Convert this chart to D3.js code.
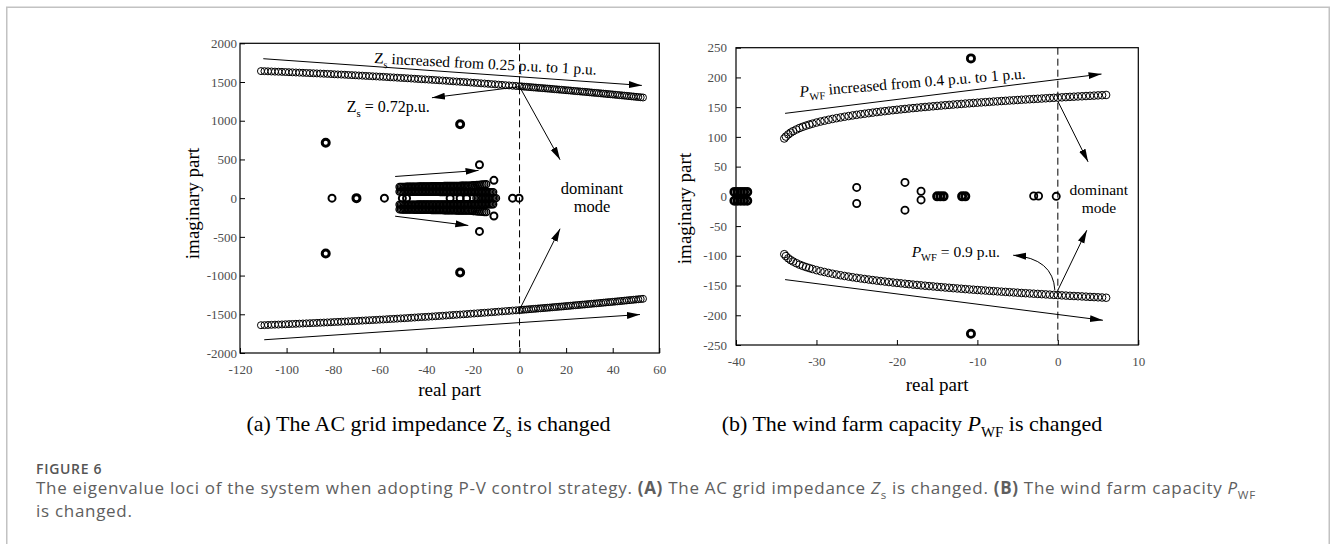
<!DOCTYPE html>
<html>
<head>
<meta charset="utf-8">
<title>Eigenvalue loci - P-V control</title>
<script src="https://cdn.jsdelivr.net/npm/d3@7"></script>
<style>
  body { margin: 0; background: #fff; }
  svg { display: block; }
  text { white-space: pre; }
  .tick text { font-family: "Liberation Serif", "Times New Roman", serif; font-size: 13px; fill: #4d4d4d; }
  .tick line { stroke: #000; }
  .serif { font-family: "Liberation Serif", "Times New Roman", serif; fill: #000; }
  .cap { font-family: "Open Sans", sans-serif; fill: #5e5e5e; letter-spacing: 0.7px; }
</style>
</head>
<body>
<script>
// ---- panel (a): Zs swept from 0.25 to 1 p.u. (dominant pair) ----
var zsRe = [-111, -109.5, -108, -106.5, -105, -103.5, -102, -100.5, -99, -97.5,
  -96, -94.5, -93, -91.5, -90, -88.5, -87, -85.5, -84, -82.5,
  -81, -79.5, -78, -76.5, -75, -73.5, -72, -70.5, -69, -67.5,
  -66, -64.5, -63, -61.5, -60, -58.5, -57, -55.5, -54, -52.5,
  -51, -49.5, -48, -46.5, -45, -43.5, -42, -40.5, -39, -37.5,
  -36, -34.5, -33, -31.5, -30, -28.5, -27, -25.5, -24, -22.5,
  -21, -19.5, -18, -16.5, -15, -13.5, -12, -10.5, -9, -7.5,
  -6, -4.5, -3, -1.5, 0,
  1, 2, 3, 4, 5, 6, 7, 8, 9, 10,
  11, 12, 13, 14, 15, 16, 17, 18, 19, 20,
  21, 22, 23, 24, 25, 26, 27, 28, 29, 30,
  31, 32, 33, 34, 35, 36, 37, 38, 39, 40,
  41, 42, 43, 44, 45, 46, 47, 48, 49, 50,
  51, 52, 53];
var zsImUp = [1641, 1640, 1638, 1636, 1634, 1633, 1631, 1629, 1627, 1625,
  1623, 1621, 1619, 1617, 1615, 1613, 1611, 1609, 1607, 1605,
  1603, 1600, 1598, 1596, 1594, 1591, 1589, 1587, 1584, 1582,
  1579, 1577, 1574, 1572, 1569, 1567, 1564, 1561, 1559, 1556,
  1553, 1551, 1548, 1545, 1542, 1539, 1536, 1534, 1531, 1528,
  1525, 1522, 1519, 1516, 1512, 1509, 1506, 1503, 1500, 1497,
  1493, 1490, 1487, 1483, 1480, 1477, 1473, 1470, 1466, 1463,
  1459, 1456, 1452, 1449, 1445,
  1443, 1440, 1438, 1435, 1433, 1430, 1428, 1425, 1423, 1420,
  1418, 1415, 1413, 1410, 1407, 1405, 1402, 1400, 1397, 1394,
  1392, 1389, 1386, 1383, 1381, 1378, 1375, 1373, 1370, 1367,
  1364, 1361, 1359, 1356, 1353, 1350, 1347, 1344, 1342, 1339,
  1336, 1333, 1330, 1327, 1324, 1321, 1318, 1315, 1312, 1309,
  1306, 1303, 1300];
var zsImLow = [-1641, -1640, -1638, -1636, -1634, -1633, -1631, -1629, -1627, -1625,
  -1623, -1621, -1619, -1617, -1615, -1613, -1611, -1609, -1607, -1605,
  -1603, -1600, -1598, -1596, -1594, -1591, -1589, -1587, -1584, -1582,
  -1579, -1577, -1574, -1572, -1569, -1567, -1564, -1561, -1559, -1556,
  -1553, -1551, -1548, -1545, -1542, -1539, -1536, -1534, -1531, -1528,
  -1525, -1522, -1519, -1516, -1512, -1509, -1506, -1503, -1500, -1497,
  -1493, -1490, -1487, -1483, -1480, -1477, -1473, -1470, -1466, -1463,
  -1459, -1456, -1452, -1449, -1445,
  -1443, -1440, -1438, -1435, -1433, -1430, -1428, -1425, -1423, -1420,
  -1418, -1415, -1413, -1410, -1407, -1405, -1402, -1400, -1397, -1394,
  -1392, -1389, -1386, -1383, -1381, -1378, -1375, -1373, -1370, -1367,
  -1364, -1361, -1359, -1356, -1353, -1350, -1347, -1344, -1342, -1339,
  -1336, -1333, -1330, -1327, -1324, -1321, -1318, -1315, -1312, -1309,
  -1306, -1303, -1300];

// oscillatory modes packed between -52 and -11 (they read as solid bands)
var bandRe = [-51.5, -50.9, -50.3, -49.7, -49.1, -48.5, -47.9, -47.3, -46.7, -46.1,
  -45.5, -44.9, -44.3, -43.7, -43.1, -42.5, -41.9, -41.3, -40.7, -40.1,
  -39.5, -38.9, -38.3, -37.7, -37.1, -36.5, -35.9, -35.3, -34.7, -34.1,
  -33.5, -32.9, -32.3, -31.7, -31.1, -30.5, -29.9, -29.3, -28.7, -28.1,
  -27.5, -26.9, -26.3, -25.7, -25.1, -24.5, -23.9, -23.3, -22.7, -22.1,
  -21.5, -20.9, -20.3, -19.7, -19.1, -18.5, -17.9, -17.3, -16.7, -16.1,
  -15.5, -14.9, -14.3, -13.7, -13.1, -12.5, -11.9, -11.3];
var bandImUpIn = [84, 84, 84, 84, 84, 83, 83, 83, 83, 83,
  83, 83, 83, 82, 82, 82, 82, 82, 82, 82,
  82, 81, 81, 81, 81, 81, 81, 81, 81, 80,
  80, 80, 80, 80, 80, 80, 80, 80, 79, 79,
  79, 79, 79, 79, 79, 79, 79, 78, 78, 78,
  78, 78, 78, 78, 78, 78, 78, 78, 78, 78,
  78, 78, 78, 78, 78, 78, 78, 78];
var bandImLowIn = [-84, -84, -84, -84, -84, -83, -83, -83, -83, -83,
  -83, -83, -83, -82, -82, -82, -82, -82, -82, -82,
  -82, -81, -81, -81, -81, -81, -81, -81, -81, -80,
  -80, -80, -80, -80, -80, -80, -80, -80, -79, -79,
  -79, -79, -79, -79, -79, -79, -79, -78, -78, -78,
  -78, -78, -78, -78, -78, -78, -78, -78, -78, -78,
  -78, -78, -78, -78, -78, -78, -78, -78];
var bandReOut = [-51.5, -50.9, -50.3, -49.7, -49.1, -48.5, -47.9, -47.3, -46.7, -46.1,
  -45.5, -44.9, -44.3, -43.7, -43.1, -42.5, -41.9, -41.3, -40.7, -40.1,
  -39.5, -38.9, -38.3, -37.7, -37.1, -36.5, -35.9, -35.3, -34.7, -34.1,
  -33.5, -32.9, -32.3, -31.7, -31.1, -30.5, -29.9, -29.3, -28.7, -28.1,
  -27.5, -26.9, -26.3, -25.7, -25.1, -24.5, -23.9, -23.3, -22.7, -22.1,
  -21.5,
  -20.7, -19.9, -19.1, -18.3, -17.5, -16.7, -15.9, -15.1, -14.3];
var bandImUpOut = [145, 145, 146, 146, 146, 147, 147, 147, 148, 148,
  148, 149, 149, 149, 150, 150, 150, 151, 151, 151,
  152, 152, 152, 153, 153, 153, 154, 154, 154, 155,
  155, 155, 156, 156, 156, 157, 157, 157, 158, 158,
  158, 159, 159, 159, 160, 160, 160, 160, 160, 160,
  160,
  163, 166, 168, 170, 172, 174, 176, 178, 180];
var bandImLowOut = [-145, -145, -146, -146, -146, -147, -147, -147, -148, -148,
  -148, -149, -149, -149, -150, -150, -150, -151, -151, -151,
  -152, -152, -152, -153, -153, -153, -154, -154, -154, -155,
  -155, -155, -156, -156, -156, -157, -157, -157, -158, -158,
  -158, -159, -159, -159, -160, -160, -160, -160, -160, -160,
  -160,
  -163, -166, -168, -170, -172, -174, -176, -178, -180];

// real eigenvalues bunched between -18.5 and -10
var realRowA = [-18.5, -17.9, -17.3, -16.7, -16.1, -15.5, -14.9, -14.3, -13.7, -13.1,
  -12.5, -11.9, -11.3, -10.7, -10.1];
// modes that hardly move with Zs
var modesA = [[-80.5, 0], [-58, 0], [-50.3, 0], [-48.5, 0], [-29.8, 0], [-25.5, 0], [-22.7, 0],
  [-3, 0], [-0.2, 0], [-17.2, 431], [-17.2, -430], [-11, 230], [-11, -231]];
var modesABold = [[-83.2, 715], [-83.2, -715], [-25.5, 955], [-25.5, -960], [-70, 0]];

// ---- panel (b): PWF swept from 0.4 to 1 p.u. ----
var pwfRe = [-34, -33.8, -33.5, -33.2, -32.9, -32.5, -32.1, -31.7, -31.3, -30.9,
  -30.5, -30, -29.5, -29, -28.5, -28, -27.5, -27, -26.5, -26,
  -25.5, -25, -24.5, -24, -23.5, -23, -22.5, -22, -21.5, -21,
  -20.5, -20, -19.5, -19, -18.5, -18, -17.5, -17, -16.5, -16,
  -15.5, -15, -14.5, -14, -13.5, -13, -12.5, -12, -11.5, -11,
  -10.5, -10, -9.5, -9, -8.5, -8, -7.5, -7, -6.5, -6,
  -5.5, -5, -4.5, -4, -3.5, -3, -2.5, -2, -1.5, -1,
  -0.5, 0, 0.5, 1, 1.5, 2, 2.5, 3, 3.5, 4,
  4.5, 5, 5.5, 6];
var pwfImUp = [97.3, 100.5, 104.2, 107.2, 109.6, 112.4, 114.9, 117.0, 118.9, 120.6,
  122.2, 124.1, 125.8, 127.3, 128.8, 130.2, 131.5, 132.7, 133.9, 135.0,
  136.1, 137.1, 138.1, 139.0, 139.9, 140.8, 141.7, 142.5, 143.3, 144.1,
  144.9, 145.6, 146.3, 147.0, 147.7, 148.4, 149.0, 149.7, 150.3, 150.9,
  151.5, 152.1, 152.7, 153.3, 153.8, 154.4, 154.9, 155.4, 156.0, 156.5,
  157.0, 157.5, 158.0, 158.4, 158.9, 159.4, 159.8, 160.3, 160.7, 161.2,
  161.6, 162.0, 162.5, 162.9, 163.3, 163.7, 164.1, 164.5, 164.9, 165.3,
  165.7, 166.1, 166.5, 166.9, 167.3, 167.6, 168.0, 168.3, 168.7, 169.1,
  169.4, 169.8, 170.1, 170.5];
var pwfImLow = [-97.3, -100.5, -104.2, -107.2, -109.6, -112.4, -114.9, -117.0, -118.9, -120.6,
  -122.2, -124.1, -125.8, -127.3, -128.8, -130.2, -131.5, -132.7, -133.9, -135.0,
  -136.1, -137.1, -138.1, -139.0, -139.9, -140.8, -141.7, -142.5, -143.3, -144.1,
  -144.9, -145.6, -146.3, -147.0, -147.7, -148.4, -149.0, -149.7, -150.3, -150.9,
  -151.5, -152.1, -152.7, -153.3, -153.8, -154.4, -154.9, -155.4, -156.0, -156.5,
  -157.0, -157.5, -158.0, -158.4, -158.9, -159.4, -159.8, -160.3, -160.7, -161.2,
  -161.6, -162.0, -162.5, -162.9, -163.3, -163.7, -164.1, -164.5, -164.9, -165.3,
  -165.7, -166.1, -166.5, -166.9, -167.3, -167.6, -168.0, -168.3, -168.7, -169.1,
  -169.4, -169.8, -170.1, -170.5];
var modesB = [[-25, 15], [-25, -12], [-19, 23.4], [-19, -23.2], [-17, 8.5], [-17, -6],
  [-3.0, 0.5], [-2.4, 0.5], [-0.2, 0]];
var modesBBold = [[-10.8, 232], [-10.8, -231],
  [-40.2, 7.5], [-39.8, 7.5], [-39.4, 7.5], [-39, 7.5], [-38.6, 7.5],
  [-40.2, -7.5], [-39.8, -7.5], [-39.4, -7.5], [-39, -7.5], [-38.6, -7.5],
  [-15, 0], [-14.6, 0], [-14.2, 0], [-11.9, 0], [-11.5, 0]];

// ticks
var ticksAX = [-120, -100, -80, -60, -40, -20, 0, 20, 40, 60];
var ticksAY = [-2000, -1500, -1000, -500, 0, 500, 1000, 1500, 2000];
var ticksBX = [-40, -30, -20, -10, 0, 10];
var ticksBY = [-250, -200, -150, -100, -50, 0, 50, 100, 150, 200, 250];

var svg = d3.select("body").append("svg")
    .attr("width", 1330)
    .attr("height", 544);

// page frame
svg.append("path")
    .attr("d", "M6.75,544V7.25H1329.25V544")
    .attr("fill", "none")
    .attr("stroke", "#c2c2c2")
    .attr("stroke-width", 1.5);

svg.append("defs").append("marker")
    .attr("id", "head")
    .attr("viewBox", "0 -4 13 8")
    .attr("refX", 13)
    .attr("refY", 0)
    .attr("markerWidth", 13)
    .attr("markerHeight", 8)
    .attr("markerUnits", "userSpaceOnUse")
    .attr("orient", "auto")
  .append("path")
    .attr("d", "M0,-3.5L13,0L0,3.5Z")
    .attr("fill", "#000");

function makePanel(box, xDom, yDom, xTicks, yTicks, yPad) {
  var x = d3.scaleLinear().domain(xDom).range([box.left, box.right]);
  var y = d3.scaleLinear().domain(yDom).range([box.bottom, box.top]);
  var g = svg.append("g");
  var fmt = function(d) { return String(d); };

  g.append("g")
      .attr("transform", "translate(0," + box.bottom + ")")
      .call(d3.axisBottom(x).tickValues(xTicks).tickSizeInner(-5).tickSizeOuter(0).tickPadding(12).tickFormat(fmt))
      .call(function(a) { a.select(".domain").remove(); });
  g.append("g")
      .attr("transform", "translate(" + box.left + ",0)")
      .call(d3.axisLeft(y).tickValues(yTicks).tickSizeInner(-5).tickSizeOuter(0).tickPadding(yPad).tickFormat(fmt))
      .call(function(a) { a.select(".domain").remove(); });

  g.append("rect")
      .attr("x", box.left)
      .attr("y", box.top)
      .attr("width", box.right - box.left)
      .attr("height", box.bottom - box.top)
      .attr("fill", "none")
      .attr("stroke", "#000")
      .attr("stroke-width", 1.2);

  // imaginary axis (stability border)
  g.append("line")
      .attr("x1", x(0)).attr("x2", x(0))
      .attr("y1", box.top).attr("y2", box.bottom)
      .attr("stroke", "#000")
      .attr("stroke-width", 1)
      .attr("stroke-dasharray", "7,4");

  return {g: g, x: x, y: y, box: box};
}

function rings(p, pts, r, sw) {
  p.g.append("g")
      .attr("fill", "none")
      .attr("stroke", "#000")
      .attr("stroke-width", sw)
    .selectAll("circle")
    .data(pts)
    .enter()
      .append("circle")
      .attr("cx", function(d) { return p.x(d[0]); })
      .attr("cy", function(d) { return p.y(d[1]); })
      .attr("r", r);
}

function arrow(p, a) {
  p.g.append("line")
      .attr("x1", p.x(a[0])).attr("y1", p.y(a[1]))
      .attr("x2", p.x(a[2])).attr("y2", p.y(a[3]))
      .attr("stroke", "#000")
      .attr("stroke-width", 1)
      .attr("marker-end", "url(#head)");
}

// parts: [text, flags] flags: i italic, s subscript, b bold
function addParts(t, parts, size) {
  var shift = 0;
  parts.forEach(function(s) {
    var f = s[1] || "";
    var want = f.indexOf("s") >= 0 ? size * 0.28 : 0;
    var ts = t.append("tspan").text(s[0]).attr("dy", want - shift);
    shift = want;
    if (f.indexOf("s") >= 0) ts.attr("font-size", size * 0.68);
    if (f.indexOf("i") >= 0) ts.attr("font-style", "italic");
    if (f.indexOf("b") >= 0) ts.attr("font-weight", "bold");
  });
}

function note(p, xv, yv, parts, size, anchor, angle) {
  var px = p.x(xv), py = p.y(yv);
  var t = p.g.append("text")
      .attr("class", "serif")
      .attr("x", px)
      .attr("y", py)
      .attr("font-size", size)
      .attr("text-anchor", anchor || "start");
  if (angle) t.attr("transform", "rotate(" + angle + "," + px + "," + py + ")");
  addParts(t, parts, size);
}

function axisTitles(p, xBase, yBase, yMid) {
  var b = p.box;
  p.g.append("text")
      .attr("class", "serif")
      .attr("x", (b.left + b.right) / 2)
      .attr("y", xBase)
      .attr("font-size", 19)
      .attr("text-anchor", "middle")
      .text("real part");
  p.g.append("text")
      .attr("class", "serif")
      .attr("transform", "translate(" + yBase + "," + yMid + ")rotate(-90)")
      .attr("font-size", 19)
      .attr("text-anchor", "middle")
      .text("imaginary part");
}

// ================= panel (a) =================
var pa = makePanel({left: 240, right: 659.3, top: 43.3, bottom: 353}, [-120, 60], [-2000, 2000], ticksAX, ticksAY, 3);

rings(pa, d3.zip(bandRe, bandImUpIn), 3.5, 1.4);
rings(pa, d3.zip(bandRe, bandImLowIn), 3.5, 1.4);
rings(pa, d3.zip(bandReOut, bandImUpOut), 3.5, 1.4);
rings(pa, d3.zip(bandReOut, bandImLowOut), 3.5, 1.4);
rings(pa, realRowA.map(function(d) { return [d, 0]; }), 3.5, 1.4);
rings(pa, modesA, 3.5, 2);
rings(pa, modesABold, 3.5, 3);
rings(pa, d3.zip(zsRe, zsImUp), 3.5, 1);
rings(pa, d3.zip(zsRe, zsImLow), 3.5, 1);

// annotations in data units
var arrowsA = [
  [-110, 1801, 52.5, 1456],
  [-109.6, -1829, 51.7, -1503],
  [0, 1440, -37.6, 1297],
  [0, 1440, 17.4, 496],
  [0, -1440, 17.4, -395],
  [-53.4, 280, -17.6, 358],
  [-53.4, -233, -22, -353]
];
arrowsA.forEach(function(a) { arrow(pa, a); });

note(pa, -62.5, 1744, [["Z"], ["s", "s"], [" increased from 0.25 p.u. to 1 p.u."]], 15.5, "start", 3);
note(pa, -74.2, 1107, [["Z"], ["s", "s"], [" = 0.72p.u."]], 16, "start");
note(pa, 31.1, 57, [["dominant"]], 16.5, "middle");
note(pa, 31.1, -181, [["mode"]], 16.5, "middle");
axisTitles(pa, 396, 199, 203.5);

// ================= panel (b) =================
var pb = makePanel({left: 736, right: 1138.3, top: 47.7, bottom: 345}, [-40, 10], [-250, 250], ticksBX, ticksBY, 9);

rings(pb, modesB, 3.6, 1.8);
rings(pb, modesBBold, 3.6, 2.8);
rings(pb, d3.zip(pwfRe, pwfImUp), 3.8, 1);
rings(pb, d3.zip(pwfRe, pwfImLow), 3.8, 1);

var arrowsB = [
  [-33.9, 139.6, 5.43, 205.7],
  [-33.9, -140, 5.6, -208.4],
  [0, 160, 3.76, 58],
  [0, -158, 3.6, -57]
];
arrowsB.forEach(function(a) { arrow(pb, a); });

// curved pointer to the PWF = 0.9 p.u. crossing
var curve = d3.path();
curve.moveTo(pb.x(-0.37), pb.y(-158));
curve.quadraticCurveTo(pb.x(-0.58), pb.y(-104.5), pb.x(-5.55), pb.y(-99));
pb.g.append("path")
    .attr("d", curve.toString())
    .attr("fill", "none")
    .attr("stroke", "#000")
    .attr("stroke-width", 1)
    .attr("marker-end", "url(#head)");

note(pb, -32.05, 167.5, [["P", "i"], ["WF", "s"], [" increased from 0.4 p.u. to 1 p.u."]], 15.5, "start", -4.6);
note(pb, -18.17, -101.9, [["P", "i"], ["WF", "s"], [" = 0.9 p.u."]], 15.5, "start");
note(pb, 5.1, 2, [["dominant"]], 15.5, "middle");
note(pb, 5.1, -28.3, [["mode"]], 15.5, "middle");
axisTitles(pb, 390.5, 691, 208.5);

// ================= captions =================
function caption(x, y, parts, size, cls, anchor) {
  var t = svg.append("text")
      .attr("class", cls)
      .attr("x", x)
      .attr("y", y)
      .attr("font-size", size)
      .attr("text-anchor", anchor || "start");
  addParts(t, parts, size);
  return t;
}

caption(428.5, 431, [["(a) The AC grid impedance Z"], ["s", "s"], [" is changed"]], 22, "serif", "middle");
caption(912, 431, [["(b) The wind farm capacity "], ["P", "i"], ["WF", "s"], [" is changed"]], 22, "serif", "middle");

caption(36, 474, [["FIGURE 6"]], 14, "cap").attr("font-weight", 600).style("fill", "#555");
caption(36, 494, [["The eigenvalue loci of the system when adopting P-V control strategy. "], ["(A)", "b"],
  [" The AC grid impedance "], ["Z", "i"], ["s", "s"], [" is changed. "], ["(B)", "b"],
  [" The wind farm capacity "], ["P", "i"], ["WF", "s"]], 17, "cap");
caption(36, 517, [["is changed."]], 17, "cap");
</script>
</body>
</html>
